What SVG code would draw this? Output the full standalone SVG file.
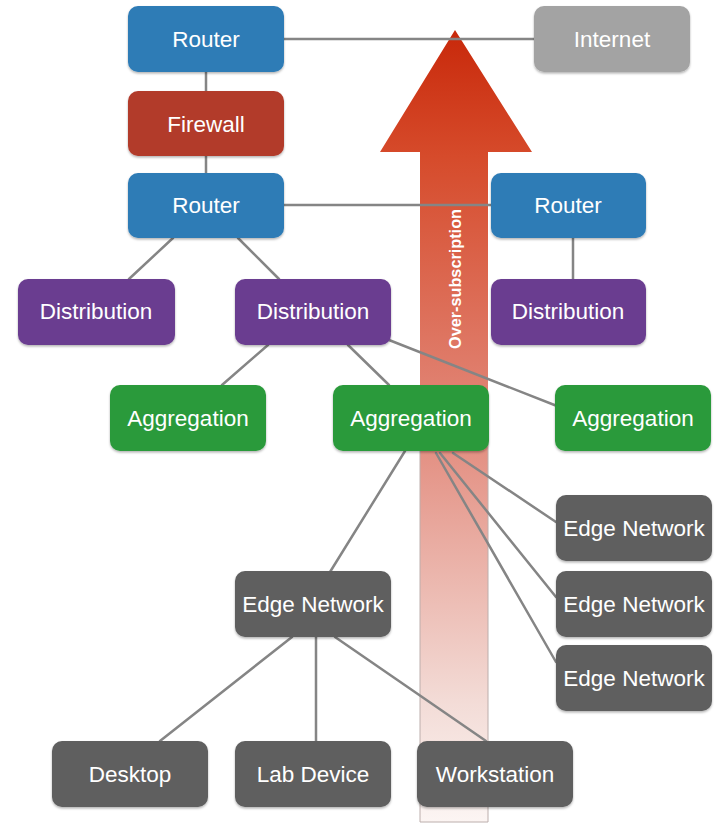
<svg xmlns="http://www.w3.org/2000/svg" width="717" height="827" viewBox="0 0 717 827">
<defs>
<linearGradient id="arrowGrad" gradientUnits="userSpaceOnUse" x1="0" y1="30" x2="0" y2="822">
<stop offset="0" stop-color="#c8280a"/>
<stop offset="0.16" stop-color="#d64b2b"/>
<stop offset="0.5" stop-color="#e2897b"/>
<stop offset="0.85" stop-color="#f3dcd7"/>
<stop offset="1" stop-color="#fcf5f3"/>
</linearGradient>
<filter id="sh" x="-10%" y="-10%" width="120%" height="130%">
<feDropShadow dx="0" dy="1.5" stdDeviation="1.2" flood-color="#000" flood-opacity="0.3"/>
</filter>
</defs>
<style>
.n rect{rx:10px;ry:10px;filter:url(#sh)}
.n text{font-family:"Liberation Sans",Arial,sans-serif;font-size:22.5px;fill:#fff;text-anchor:middle;dominant-baseline:central}
.blue rect{fill:#2e7bb6}
.gray rect{fill:#a3a3a3}
.red rect{fill:#b23b2c}
.purple rect{fill:#6b3e90}
.green rect{fill:#2b9a3b}
.dark rect{fill:#5f5f5f}
#connectors line{stroke:#858585;stroke-width:2.5;stroke-linecap:round}
</style>
<rect width="717" height="827" fill="#fff"/>
<g id="arrow">
<path d="M455,30 L532,152 L488,152 L488,822 L420,822 L420,152 L380,152 Z" fill="url(#arrowGrad)"/>
<path d="M420,420 L420,822 L488,822 L488,420" fill="none" stroke="#bcaeac" stroke-width="1"/>
<text x="455" y="279" transform="rotate(-90 455 279)" font-family="'Liberation Sans',Arial,sans-serif" font-weight="bold" font-size="17" fill="#fff" text-anchor="middle" dominant-baseline="central" textLength="140" lengthAdjust="spacingAndGlyphs">Over-subscription</text>
</g>
<g id="connectors">
<line x1="284" y1="39" x2="534" y2="39"/>
<line x1="206" y1="72" x2="206" y2="91"/>
<line x1="206" y1="156" x2="206" y2="173"/>
<line x1="284" y1="205" x2="491" y2="205"/>
<line x1="173" y1="238" x2="129" y2="279"/>
<line x1="238" y1="238" x2="279" y2="279"/>
<line x1="573" y1="238" x2="573" y2="279"/>
<line x1="268" y1="345" x2="222" y2="385"/>
<line x1="348" y1="345" x2="389" y2="385"/>
<line x1="389" y1="340" x2="557" y2="406"/>
<line x1="405" y1="451" x2="330" y2="572"/>
<line x1="453" y1="453" x2="556" y2="522"/>
<line x1="440" y1="453" x2="556" y2="597"/>
<line x1="436" y1="453" x2="556" y2="662"/>
<line x1="292" y1="637" x2="160" y2="741"/>
<line x1="316" y1="637" x2="316" y2="741"/>
<line x1="335" y1="637" x2="486" y2="741"/>
</g>
<g id="router1" class="n blue"><rect x="128" y="6" width="156" height="66"/><text x="206" y="39">Router</text></g>
<g id="internet" class="n gray"><rect x="534" y="6" width="156" height="66"/><text x="612" y="39">Internet</text></g>
<g id="firewall" class="n red"><rect x="128" y="91" width="156" height="65"/><text x="206" y="124">Firewall</text></g>
<g id="router2" class="n blue"><rect x="128" y="173" width="156" height="65"/><text x="206" y="205">Router</text></g>
<g id="router3" class="n blue"><rect x="491" y="173" width="155" height="65"/><text x="568" y="205">Router</text></g>
<g id="dist1" class="n purple"><rect x="18" y="279" width="157" height="66"/><text x="96" y="311">Distribution</text></g>
<g id="dist2" class="n purple"><rect x="235" y="279" width="156" height="66"/><text x="313" y="311">Distribution</text></g>
<g id="dist3" class="n purple"><rect x="491" y="279" width="155" height="66"/><text x="568" y="311">Distribution</text></g>
<g id="agg1" class="n green"><rect x="110" y="385" width="156" height="66"/><text x="188" y="418">Aggregation</text></g>
<g id="agg2" class="n green"><rect x="333" y="385" width="156" height="66"/><text x="411" y="418">Aggregation</text></g>
<g id="agg3" class="n green"><rect x="555" y="385" width="156" height="66"/><text x="633" y="418">Aggregation</text></g>
<g id="edgeR1" class="n dark"><rect x="556" y="495" width="156" height="66"/><text x="634" y="528">Edge Network</text></g>
<g id="edgeR2" class="n dark"><rect x="556" y="571" width="156" height="66"/><text x="634" y="604">Edge Network</text></g>
<g id="edgeR3" class="n dark"><rect x="556" y="645" width="156" height="66"/><text x="634" y="678">Edge Network</text></g>
<g id="edgeL" class="n dark"><rect x="235" y="571" width="156" height="66"/><text x="313" y="604">Edge Network</text></g>
<g id="desktop" class="n dark"><rect x="52" y="741" width="156" height="66"/><text x="130" y="774">Desktop</text></g>
<g id="labdevice" class="n dark"><rect x="235" y="741" width="156" height="66"/><text x="313" y="774">Lab Device</text></g>
<g id="workstation" class="n dark"><rect x="417" y="741" width="156" height="66"/><text x="495" y="774">Workstation</text></g>
</svg>
